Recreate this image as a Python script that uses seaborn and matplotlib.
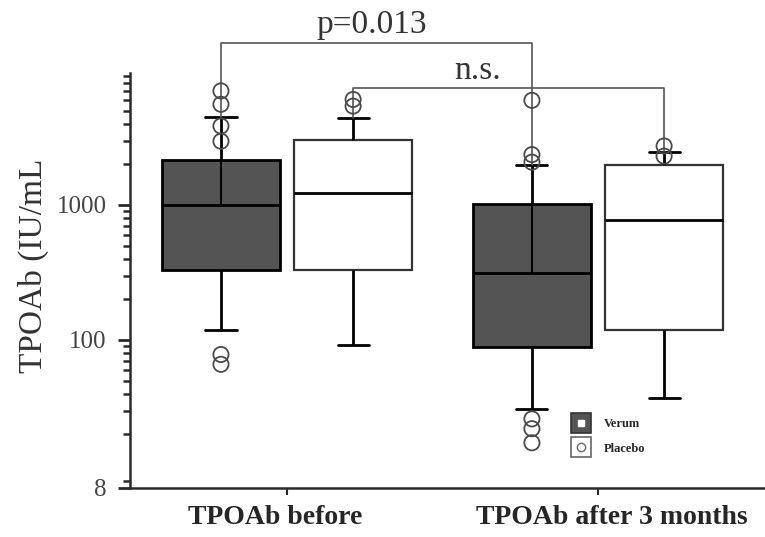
import numpy as np
import pandas as pd
import matplotlib
matplotlib.use("Agg")
import matplotlib.pyplot as plt
import matplotlib.transforms as mtransforms
from matplotlib.lines import Line2D
from matplotlib.ticker import LogLocator, NullFormatter, FixedLocator
import seaborn as sns

timepoints = ["TPOAb before", "TPOAb after 3 months"]
groups = ["Verum", "Placebo"]

# five-number summaries: whisker low, Q1, median, Q3, whisker high (IU/mL)
verum_before = [119, 332, 1000, 2140, 4450]
placebo_before = [91, 327, 1235, 3015, 4375]
verum_after = [30.6, 88, 311, 1016, 1977]
placebo_after = [37, 119, 771, 1977, 2480]

# individually plotted values (open circles)
verum_before_out = [7000, 5570, 3845, 2965, 78, 66]
placebo_before_out = [6050, 5400]
verum_after_out = [5960, 2360, 2075, 26, 22, 17.3]
placebo_after_out = [2735, 2300]

y_ticks = [8, 100, 1000]
y_tick_labels = ["8", "100", "1000"]

summaries = {
    ("TPOAb before", "Verum"): verum_before,
    ("TPOAb before", "Placebo"): placebo_before,
    ("TPOAb after 3 months", "Verum"): verum_after,
    ("TPOAb after 3 months", "Placebo"): placebo_after,
}
outliers = {
    ("TPOAb before", "Verum"): verum_before_out,
    ("TPOAb before", "Placebo"): placebo_before_out,
    ("TPOAb after 3 months", "Verum"): verum_after_out,
    ("TPOAb after 3 months", "Placebo"): placebo_after_out,
}

rows = []
for (t, g), vals in summaries.items():
    for v in vals:
        rows.append({"time": t, "group": g, "value": v})
df = pd.DataFrame(rows)

sns.set_style("ticks")
plt.rcParams["font.family"] = ["Liberation Serif", "DejaVu Serif"]

W, H = 765, 537
fig = plt.figure(figsize=(W / 100, H / 100), dpi=100)
ax = fig.add_axes([130 / W, 1 - 488 / H, 635 / W, 415 / H])

BOX_W = 0.85
GAP = 0.11
sns.boxplot(
    data=df, x="time", y="value", hue="group",
    order=timepoints, hue_order=groups,
    palette={"Verum": "#545454", "Placebo": "white"},
    width=BOX_W, gap=GAP, whis=(0, 100), showfliers=False,
    linecolor="black", linewidth=2.0, log_scale=True,
    capwidths=0.1, legend=False, ax=ax,
)

# lighter outline for the open boxes
for p in ax.patches:
    fc = p.get_facecolor()
    if fc[0] > 0.9:
        p.set_edgecolor("#333333")
        p.set_linewidth(1.6)

ax.set_ylim(8, 9500)
ax.set_xlim(-0.505, 1.537)

slot = BOX_W / len(groups)


def xpos(t, g):
    return timepoints.index(t) + (groups.index(g) - 0.5) * slot


# thin line from median up to Q3 inside the filled boxes
for t in timepoints:
    lo, q1, med, q3, hi = summaries[(t, "Verum")]
    ax.vlines(xpos(t, "Verum"), med, q3, color="black", lw=1.4, zorder=4)

# outlying values
for (t, g), vals in outliers.items():
    x = np.full(len(vals), xpos(t, g))
    ax.scatter(x, vals, s=120, facecolors="none", edgecolors="#4a4a4a",
               linewidths=1.3, zorder=6, clip_on=False)


def bracket(a, b, height, label, text_shift=0.0):
    x1, x2 = xpos(*a), xpos(*b)
    w1, w2 = summaries[a][4], summaries[b][4]
    ax.plot([x1, x1, x2, x2], [w1, height, height, w2], color="#555555",
            lw=1.2, clip_on=False, zorder=3)
    ax.annotate(label, xy=((x1 + x2) / 2 + text_shift, height),
                xytext=(0, 2), textcoords="offset points",
                ha="center", va="bottom", fontsize=24, color="#333333",
                annotation_clip=False)


bracket(("TPOAb before", "Verum"), ("TPOAb after 3 months", "Verum"), 15800, "p=0.013",
        text_shift=-0.015)
bracket(("TPOAb before", "Placebo"), ("TPOAb after 3 months", "Placebo"), 7300, "n.s.",
        text_shift=-0.1)

# axes styling
sns.despine(ax=ax)
for s in ("left", "bottom"):
    ax.spines[s].set_color("#2a2a2a")
    ax.spines[s].set_linewidth(1.8)

ax.yaxis.set_major_locator(FixedLocator(y_ticks))
ax.set_yticklabels(y_tick_labels)
ax.yaxis.set_minor_locator(LogLocator(base=10, subs=np.arange(2, 10)))
ax.yaxis.set_minor_formatter(NullFormatter())
ax.tick_params(axis="y", which="major", length=9, width=2, color="#2a2a2a",
               labelsize=18, labelcolor="#444444", pad=8)
ax.tick_params(axis="y", which="minor", length=5, width=1.8, color="#2a2a2a")
ax.tick_params(axis="x", which="major", length=5, width=1.5, color="#2a2a2a",
               labelsize=20, pad=7)
for lab in ax.get_xticklabels():
    lab.set_fontweight("bold")
for lab, dx in zip(ax.get_xticklabels(), (-12, 14)):
    lab.set_transform(lab.get_transform() +
                      mtransforms.ScaledTranslation(dx / 100, 0, fig.dpi_scale_trans))

ax.set_xlabel("")
ax.set_ylabel("TPOAb (IU/mL", fontsize=24, color="#333333")
ax.yaxis.set_label_coords(-0.128, 0.535)

# legend
h_verum = (Line2D([], [], marker="s", ms=15, mfc="#545454", mec="#333333", mew=1.2, ls=""),
           Line2D([], [], marker="s", ms=4, mfc="white", mec="white", ls=""))
h_placebo = (Line2D([], [], marker="s", ms=15, mfc="white", mec="#666666", mew=1.2, ls=""),
             Line2D([], [], marker="o", ms=6, mfc="none", mec="#666666", mew=1.0, ls=""))
ax.legend([h_verum, h_placebo], groups, loc="upper left",
          bbox_to_anchor=(571 / W, 1 - 418 / H), bbox_transform=fig.transFigure,
          frameon=False, prop={"weight": "bold", "size": 9},
          handlelength=1.6, handletextpad=1.0, labelspacing=1.0, borderpad=0,
          borderaxespad=0)

fig.savefig("out.png", dpi=100)
